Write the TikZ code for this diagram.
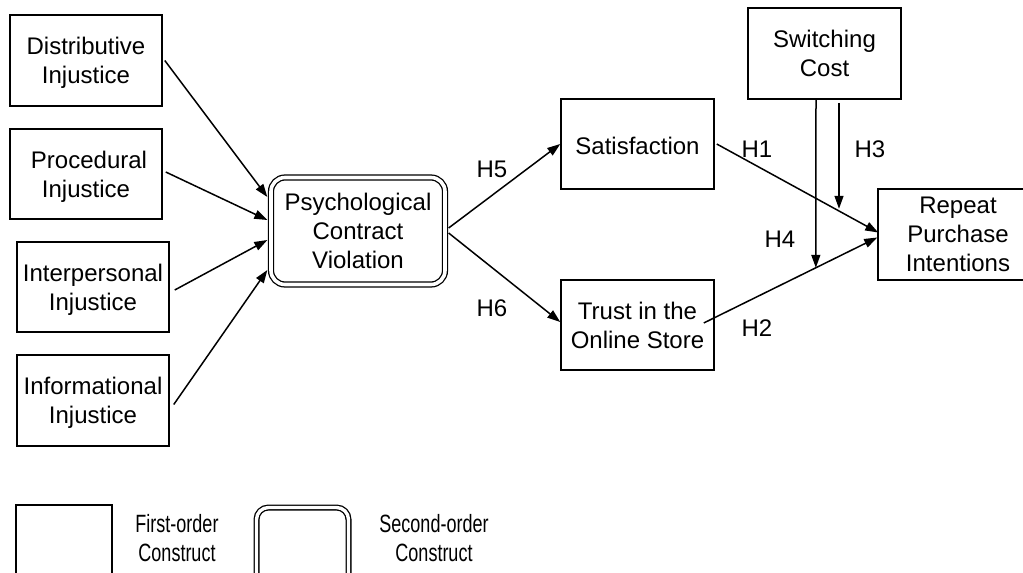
\documentclass[tikz,border=0pt]{standalone}
\usepackage{fontspec}
\setmainfont{Liberation Sans}
\usetikzlibrary{arrows.meta,calc}
\tikzset{
  fobox/.style={draw, line width=1.5pt, align=center, inner sep=0pt, text depth=0pt,
    font=\fontsize{24}{29}\selectfont},
  sobox/.style={draw, line width=1.3pt, double, double distance=3.6pt, rounded corners=14pt,
    align=center, inner sep=0pt, text depth=0pt, font=\fontsize{24}{29}\selectfont},
  arr/.style={line width=1.5pt, -{Triangle[length=13pt,width=9pt]}},
  lab/.style={font=\fontsize{24}{29}\selectfont, inner sep=0pt},
  leg/.style={align=center, inner sep=0pt, font=\fontsize{25}{29}\selectfont}
}
\begin{document}
\begin{tikzpicture}[x=1pt,y=-1pt]
\useasboundingbox (0,0) rectangle (1023,573);
\clip (0,0) rectangle (1023,573);
% first-order constructs
\node[fobox, minimum width=152pt, minimum height=91pt] (dist) at (86,60.5) {Distributive\\Injustice};
\node[fobox, minimum width=152pt, minimum height=90pt] (proc) at (86,174) {\hspace*{6pt}Procedural\\Injustice};
\node[fobox, minimum width=152pt, minimum height=90pt] (inter) at (93,287) {Interpersonal\\Injustice};
\node[fobox, minimum width=152pt, minimum height=91pt] (info) at (93,400.5) {Informational\\Injustice};
\node[sobox, minimum width=174pt, minimum height=107pt] (pcv) at (358,231) {Psychological\\Contract\\Violation};
\node[fobox, minimum width=153pt, minimum height=90pt] (sat) at (637.5,144) {\raisebox{-3pt}{Satisfaction}};
\node[fobox, minimum width=153pt, minimum height=90pt] (trust) at (637.5,325) {Trust in the\\Online Store};
\node[fobox, minimum width=153pt, minimum height=91pt] (sw) at (824.5,53.5) {Switching\\Cost};
\node[fobox, minimum width=160pt, minimum height=91pt] (rep) at (958,234.5) {Repeat\\Purchase\\Intentions};
% arrows into PCV
\draw[arr] ($(dist.east)+(2,0)$) -- ($(pcv.west)+(-3,-34)$);
\draw[arr] ($(proc.east)+(3,-2)$) -- ($(pcv.west)+(-3,-11)$);
\draw[arr] ($(inter.east)+(5,3)$) -- ($(pcv.west)+(-3,9)$);
\draw[arr] ($(info.east)+(4,4)$) -- ($(pcv.west)+(-3,39)$);
% H5, H6
\draw[arr] ($(pcv.east)+(3,-3)$) -- (sat.west);
\draw[arr] ($(pcv.east)+(3,2)$) -- ($(trust.west)+(0,-3)$);
\node[lab] (h5) at (492,169) {H5};
\node[lab] (h6) at (492,308) {H6};
% H1, H2
\draw[arr] ($(sat.east)+(2,0)$) -- ($(rep.west)+(1,-2)$);
\coordinate (h2s) at ($(trust.east)+(-11,-2)$);
\coordinate (h2e) at ($(rep.west)+(0,3)$);
\draw[arr] (h2s) -- (h2e);
\node[lab] (h1) at (757,149) {H1};
\node[lab] (h2) at (757,328) {H2};
% H3, H4
\coordinate (h4end) at ($(h2s)!0.646!(h2e)$);
\draw[arr] ($(sw.south)+(-8.5,0)$) -- (h4end);
\coordinate (h3end) at ($(sw.south)+(14.5,109)$);
\draw[arr] ($(sw.south)+(14.5,3)$) -- (h3end);
\node[lab] (h3) at (870,149) {H3};
\node[lab] (h4) at (780,239) {H4};
% legend
\node[draw, line width=1.5pt, minimum width=96pt, minimum height=100pt, inner sep=0pt] (lg1) at (64,555) {};
\node[leg] (lt1) at (177,538) {\scalebox{0.72}[1]{First-order}\\\scalebox{0.72}[1]{Construct}};
\node[draw, line width=1.3pt, double, double distance=3.4pt, rounded corners=12pt, minimum width=92pt, minimum height=100pt, inner sep=0pt] (lg2) at (302.5,557.5) {};
\node[leg] (lt2) at (434,538) {\scalebox{0.72}[1]{Second-order}\\\scalebox{0.72}[1]{Construct}};
\end{tikzpicture}
\end{document}
